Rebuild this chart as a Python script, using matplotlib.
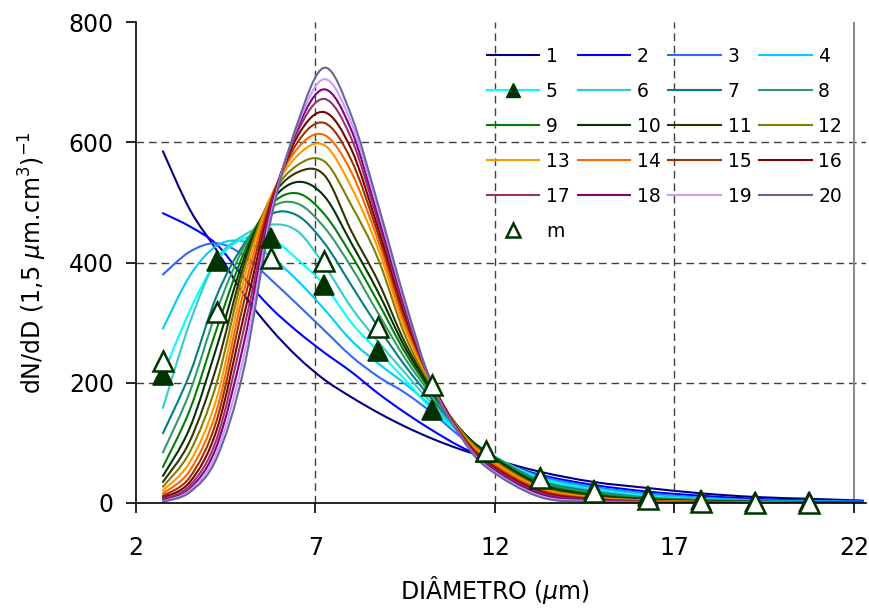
import numpy as np
import matplotlib
matplotlib.use('Agg')
import matplotlib.pyplot as plt
from matplotlib.path import Path
from matplotlib.patches import PathPatch
from matplotlib.lines import Line2D

# diameters (um) where the simulated distributions are sampled
diametro = [2.75, 3.5, 4.25, 5.0, 5.75, 6.5, 7.25, 8.0, 8.75, 9.5, 10.25, 11.0, 11.75,
            13.25, 14.75, 16.25, 17.75, 19.25, 20.75, 22.25]

c1 = [585, 488, 420, 347, 290, 243, 205, 176, 150, 127, 107, 90, 76, 52, 35, 25, 16, 10, 7, 4]
c2 = [482, 460, 430, 375, 325, 285, 250, 218, 182, 150, 121, 95, 75, 47, 30, 19, 12, 7, 4, 3]
c3 = [380, 418, 432, 412, 372, 330, 287, 244, 210, 183, 150, 112, 78, 45, 27, 16, 9, 5, 3, 2]
c4 = [290, 378, 428, 435, 410, 370, 322, 270, 232, 198, 160, 118, 82, 43, 25, 14, 8, 4, 3, 2]
c5 = [213, 320, 403, 440, 440, 405, 362, 300, 252, 205, 155, 118, 85, 41, 22, 11, 5, 2, 1, 1]
c6 = [158, 300, 405, 445, 463, 452, 395, 325, 268, 216, 165, 120, 86, 39, 21, 10, 6, 3, 2, 1]
c7 = [116, 215, 345, 430, 480, 478, 432, 362, 292, 228, 172, 122, 86, 37, 19, 9, 5, 3, 2, 1]
c8 = [84, 185, 320, 425, 490, 498, 458, 392, 315, 240, 178, 124, 86, 35, 17, 8, 4, 2, 1, 1]
c9 = [60, 155, 290, 415, 495, 515, 480, 412, 333, 250, 183, 125, 85, 33, 15, 7, 4, 2, 1, 1]
c10 = [45, 125, 260, 405, 500, 534, 510, 432, 350, 258, 187, 125, 84, 31, 13, 6, 3, 2, 1, 0]
c11 = [35, 103, 228, 395, 505, 550, 545, 452, 368, 266, 190, 125, 82, 29, 12, 5, 3, 1, 1, 0]
c12 = [27, 85, 200, 385, 508, 562, 568, 495, 405, 278, 193, 124, 80, 27, 10, 4, 2, 1, 0, 0]
c13 = [21, 68, 175, 370, 508, 578, 595, 525, 422, 288, 196, 122, 77, 25, 9, 4, 2, 1, 0, 0]
c14 = [16, 54, 155, 352, 505, 590, 612, 550, 435, 296, 198, 121, 74, 23, 8, 3, 1, 1, 0, 0]
c15 = [12, 43, 138, 333, 500, 600, 632, 570, 446, 304, 199, 120, 71, 21, 7, 3, 1, 0, 0, 0]
c16 = [9, 35, 122, 310, 495, 610, 650, 588, 456, 312, 199, 119, 68, 19, 6, 2, 1, 0, 0, 0]
c17 = [7, 29, 107, 288, 490, 618, 672, 606, 467, 318, 198, 118, 66, 17, 5, 2, 1, 0, 0, 0]
c18 = [5, 24, 95, 265, 485, 624, 688, 620, 476, 324, 197, 117, 64, 15, 4, 1, 0, 0, 0, 0]
c19 = [3, 21, 84, 243, 478, 628, 705, 632, 486, 330, 196, 116, 62, 12, 3, 1, 0, 0, 0, 0]
c20 = [2, 18, 75, 222, 470, 632, 724, 644, 495, 335, 195, 115, 60, 10, 2, 1, 0, 0, 0, 0]

curvas = [c1, c2, c3, c4, c5, c6, c7, c8, c9, c10,
          c11, c12, c13, c14, c15, c16, c17, c18, c19, c20]
nomes = [str(i) for i in range(1, 21)]
cores = ['#000080', '#0000FF', '#3366FF', '#00CCFF', '#00FFFF',
         '#33CCCC', '#008080', '#339966', '#008000', '#003300',
         '#333300', '#808000', '#FF9900', '#FF6600', '#993300',
         '#800000', '#993366', '#800080', '#CC99FF', '#666699']

# measured distribution (m)
diam_m = [2.75, 4.25, 5.75, 7.25, 8.75, 10.25, 11.75, 13.25, 14.75, 16.25, 17.75, 19.25, 20.75]
medido = [236, 318, 408, 403, 293, 196, 87, 41, 18, 7, 2, 0, 0]

verde = '#003300'


def curva_suave(x, y):
    # cubic Bezier through every point (smoothed line, Catmull-Rom tangents)
    x = np.asarray(x, float)
    y = np.asarray(y, float)
    n = len(x)
    verts = [(x[0], y[0])]
    codes = [Path.MOVETO]
    for i in range(n - 1):
        xa, ya = (x[i - 1], y[i - 1]) if i > 0 else (x[i], y[i])
        xb, yb = (x[i + 2], y[i + 2]) if i < n - 2 else (x[i + 1], y[i + 1])
        p1 = (x[i] + (x[i + 1] - xa) / 6, y[i] + (y[i + 1] - ya) / 6)
        p2 = (x[i + 1] - (xb - x[i]) / 6, y[i + 1] - (yb - y[i]) / 6)
        verts += [p1, p2, (x[i + 1], y[i + 1])]
        codes += [Path.CURVE4] * 3
    return Path(verts, codes)


fig = plt.figure(figsize=(8.7, 6.09), dpi=100)
ax = fig.add_axes([136 / 870, 106 / 609, 730 / 870, 481 / 609])
ax.set_xlim(2, 2 + 730 / 35.9)
ax.set_ylim(0, 800)

# dashed grid
for yv in [200, 400, 600]:
    ax.axhline(yv, color='#404040', lw=1.0, dashes=(5.5, 3.5), zorder=1)
for xv in [7, 12, 17]:
    ax.axvline(xv, color='#404040', lw=1.0, dashes=(5.5, 3.5), zorder=1)
ax.axvline(22, color='#8c8c8c', lw=1.5, zorder=1)

for y, cor in zip(curvas, cores):
    ax.add_patch(PathPatch(curva_suave(diametro, y), fill=False, edgecolor=cor,
                           lw=1.5, zorder=2, capstyle='round', joinstyle='round'))

# markers of series 5 sit on its own sampled points
s5_pts = [c5[diametro.index(d)] for d in diam_m]
ax.plot(diam_m, s5_pts, ls='none', marker='^', ms=14, mfc=verde, mec=verde,
        mew=1.2, zorder=4, clip_on=False)
ax.plot(diam_m, medido, ls='none', marker='^', ms=14, mfc='white', mec=verde,
        mew=1.8, zorder=5, clip_on=False)

for s in ['top', 'right']:
    ax.spines[s].set_visible(False)
for s in ['left', 'bottom']:
    ax.spines[s].set_color('black')
    ax.spines[s].set_linewidth(1.2)

ax.set_xticks([2, 7, 12, 17, 22])
ax.set_yticks([0, 200, 400, 600, 800])
ax.tick_params(axis='both', direction='out', length=7, width=1.2, labelsize=17)
ax.tick_params(axis='y', pad=9)
ax.tick_params(axis='x', pad=17)

ax.set_ylabel(r'dN/dD (1,5 $\mu$m.cm$^3$)$^{-1}$', fontsize=17)
ax.yaxis.set_label_coords(-0.119, 0.5)
ax.set_xlabel(r'DIÂMETRO ($\mu$m)', fontsize=17)
ax.xaxis.set_label_coords(0.492, -0.148)

# legend filled row by row (matplotlib fills columns)
handles = []
for i, cor in enumerate(cores):
    if i == 4:
        handles.append(Line2D([], [], color=cor, lw=1.5, marker='^', ms=14,
                              mfc=verde, mec=verde))
    else:
        handles.append(Line2D([], [], color=cor, lw=1.5))
h_m = Line2D([], [], ls='none', marker='^', ms=14, mfc='white', mec=verde, mew=1.8)

ordem = [0, 4, 8, 12, 16, 'm', 1, 5, 9, 13, 17, 2, 6, 10, 14, 18, 3, 7, 11, 15, 19]
leg_h = [h_m if k == 'm' else handles[k] for k in ordem]
leg_l = ['m' if k == 'm' else nomes[k] for k in ordem]
ax.legend(leg_h, leg_l, ncol=4, loc='upper left',
          bbox_to_anchor=(487 / 870, 1 - 47 / 609), bbox_transform=fig.transFigure,
          frameon=False, fontsize=13.5, numpoints=1, markerscale=0.75,
          handlelength=2.8, handletextpad=0.35, columnspacing=0.42,
          labelspacing=0.85, borderpad=0, borderaxespad=0)

fig.savefig('out.png', dpi=100)
